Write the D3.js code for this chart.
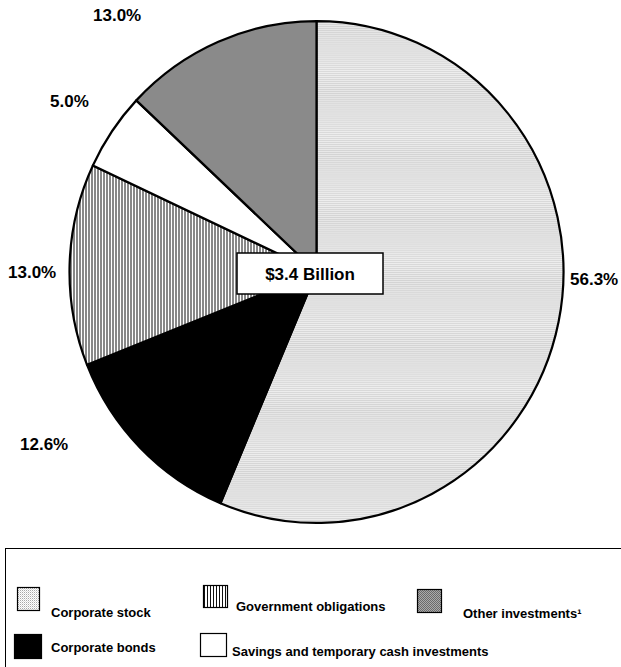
<!DOCTYPE html>
<html>
<head>
<meta charset="utf-8">
<script src="https://cdn.jsdelivr.net/npm/d3@7"></script>
<style>
  body { margin: 0; background: #fff; }
  text { font-family: "Liberation Sans", Arial, sans-serif; font-weight: bold; fill: #000; }
</style>
</head>
<body>
<svg id="chart" width="621" height="667"></svg>
<script>
// data, clockwise from 12 o'clock
var categories = ["Corporate stock", "Corporate bonds", "Government obligations",
                  "Savings and temporary cash investments", "Other investments"];
var shares = [56.3, 12.6, 13.0, 5.0, 13.0];
var shareLabels = ["56.3%", "12.6%", "13.0%", "5.0%", "13.0%"];
var centerLabel = "$3.4 Billion";

var W = 621, H = 667;
var cx = 316.5, cy = 272, R = 247;

var svg = d3.select("#chart");
var defs = svg.append("defs");

// fill patterns
var pStock = defs.append("pattern").attr("id", "p-stock")
  .attr("patternUnits", "userSpaceOnUse").attr("width", 2).attr("height", 2);
pStock.append("rect").attr("width", 2).attr("height", 2).attr("fill", "#fff");
pStock.append("rect").attr("width", 1).attr("height", 1).attr("fill", "#a8a8a8");
pStock.append("rect").attr("x", 1).attr("y", 1).attr("width", 1).attr("height", 1).attr("fill", "#dcdcdc");

var pOther = defs.append("pattern").attr("id", "p-other")
  .attr("patternUnits", "userSpaceOnUse").attr("width", 2).attr("height", 2);
pOther.append("rect").attr("width", 2).attr("height", 2).attr("fill", "#aaaaaa");
pOther.append("rect").attr("width", 1).attr("height", 1).attr("fill", "#6a6a6a");
pOther.append("rect").attr("x", 1).attr("y", 1).attr("width", 1).attr("height", 1).attr("fill", "#6a6a6a");

var pGov = defs.append("pattern").attr("id", "p-gov")
  .attr("patternUnits", "userSpaceOnUse").attr("width", 3).attr("height", 3);
pGov.append("rect").attr("width", 3).attr("height", 3).attr("fill", "#fff");
pGov.append("rect").attr("width", 1).attr("height", 3).attr("fill", "#111");

var fills = d3.scaleOrdinal()
  .domain(categories)
  .range(["url(#p-stock)", "#000", "url(#p-gov)", "#fff", "url(#p-other)"]);

// pie
var pie = d3.pie().sort(null).value(function(d){ return d; });
var arc = d3.arc().innerRadius(0).outerRadius(R);
var arcs = pie(shares);

var pieG = svg.append("g")
  .attr("transform", "translate(" + cx + "," + cy + ") scale(1,1.016)");

pieG.selectAll(".slice")
  .data(arcs)
  .enter()
  .append("path")
  .attr("class", "slice")
  .attr("d", arc)
  .attr("fill", function(d, i){ return fills(categories[i]); })
  .attr("stroke", "#000")
  .attr("stroke-width", 2.2)
  .attr("stroke-linejoin", "round");

// percent labels (placed by hand like the original)
var labelPos = [[570, 285], [20, 450], [8, 278], [50, 107], [93, 21]];
svg.selectAll(".pct")
  .data(arcs)
  .enter()
  .append("text")
  .attr("class", "pct")
  .attr("x", function(d, i){ return labelPos[i][0]; })
  .attr("y", function(d, i){ return labelPos[i][1]; })
  .attr("font-size", 17)
  .text(function(d, i){ return shareLabels[i]; });

// center box
svg.append("rect")
  .attr("x", 237).attr("y", 253).attr("width", 146).attr("height", 41)
  .attr("fill", "#fff").attr("stroke", "#000").attr("stroke-width", 1.5);
svg.append("text")
  .attr("x", 310).attr("y", 280)
  .attr("text-anchor", "middle")
  .attr("font-size", 17)
  .text(centerLabel);

// legend
svg.append("rect")
  .attr("x", 5.5).attr("y", 548.5).attr("width", 640).attr("height", 140)
  .attr("fill", "none").attr("stroke", "#000").attr("stroke-width", 1);

var legendNames = ["Corporate stock", "Government obligations", "Other investments\u00b9",
                   "Corporate bonds", "Savings and temporary cash investments"];
var legendKeys = [categories[0], categories[2], categories[4], categories[1], categories[3]];
var swatchBox = [[17, 587, 22, 23], [203, 585, 24, 22], [417, 589, 24, 23],
                 [14, 634, 27, 24], [200, 633, 26, 23]];
var legendText = [[51, 617], [236, 611], [463, 618], [51, 652], [232, 656]];

var items = svg.selectAll(".legend-item")
  .data(legendKeys)
  .enter()
  .append("g")
  .attr("class", "legend-item");

items.append("rect")
  .attr("x", function(d, i){ return swatchBox[i][0] + 0.5; })
  .attr("y", function(d, i){ return swatchBox[i][1] + 0.5; })
  .attr("width", function(d, i){ return swatchBox[i][2]; })
  .attr("height", function(d, i){ return swatchBox[i][3]; })
  .attr("fill", function(d){ return fills(d); })
  .attr("stroke", "#000")
  .attr("stroke-width", 1.2);

items.append("text")
  .attr("x", function(d, i){ return legendText[i][0]; })
  .attr("y", function(d, i){ return legendText[i][1]; })
  .attr("font-size", 13)
  .text(function(d, i){ return legendNames[i]; });
</script>
</body>
</html>
